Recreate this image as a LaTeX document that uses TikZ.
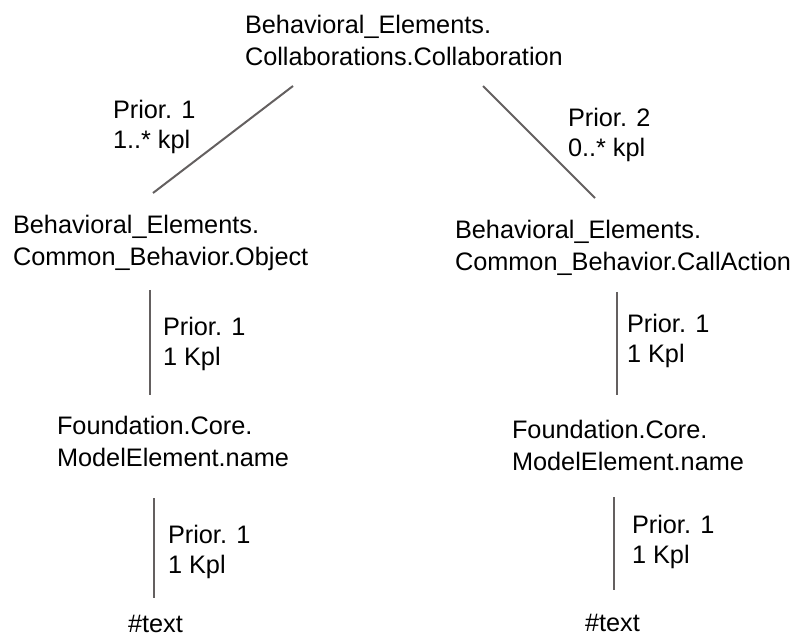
\documentclass[tikz,border=0pt]{standalone}
\usepackage{fontspec}
\setmainfont{Liberation Sans}
\usetikzlibrary{calc}
\definecolor{linegray}{RGB}{100,96,96}
\tikzset{
  elem/.style={anchor=north west, inner sep=0pt, outer sep=0pt, align=left,
    font=\fontsize{25.3}{32}\selectfont, text=black},
  lab/.style={anchor=north west, inner sep=0pt, outer sep=0pt, align=left,
    font=\fontsize{25.3}{30.5}\selectfont, text=black},
  conn/.style={draw=linegray, line width=2pt}
}
\begin{document}
\begin{tikzpicture}[x=1pt, y=-1pt]
\useasboundingbox (0,0) rectangle (798,636);
% elements
\node[elem] (top)  at (245,15)  {Behavioral\_Elements.\\Collaborations.Collaboration};
\node[elem] (obj)  at (13,215)  {Behavioral\_Elements.\\Common\_Behavior.Object};
\node[elem] (call) at (455,220) {Behavioral\_Elements.\\Common\_Behavior.CallAction};
\node[elem] (mel)  at (57,416)  {Foundation.Core.\\ModelElement.name};
\node[elem] (mer)  at (512,420) {Foundation.Core.\\ModelElement.name};
\node[elem] (tl)   at (128,615) {\#text};
\node[elem] (tr)   at (585,614) {\#text};
% labels
\node[lab] (lab1) at (113,100) {Prior. 1\\1..* kpl};
\node[lab] (lab2) at (568,108) {Prior. 2\\0..* kpl};
\node[lab] (lab3) at (163,317) {Prior. 1\\1 Kpl};
\node[lab] (lab4) at (627,314) {Prior. 1\\1 Kpl};
\node[lab] (lab5) at (168,525) {Prior. 1\\1 Kpl};
\node[lab] (lab6) at (632,515) {Prior. 1\\1 Kpl};
% connectors
\draw[conn] ($(top.north west)+(48,71)$)   -- ($(obj.north west)+(140,-22)$);
\draw[conn] ($(top.north west)+(238,71)$)  -- ($(call.north west)+(140,-22)$);
\draw[conn] ($(obj.north west)+(137,75)$)  -- ($(mel.north west)+(93,-21)$);
\draw[conn] ($(call.north west)+(162,72)$) -- ($(mer.north west)+(105,-25)$);
\draw[conn] ($(mel.north west)+(97,82)$)   -- ($(tl.north west)+(26,-17)$);
\draw[conn] ($(mer.north west)+(102,77)$)  -- ($(tr.north west)+(29,-24)$);
\end{tikzpicture}
\end{document}
